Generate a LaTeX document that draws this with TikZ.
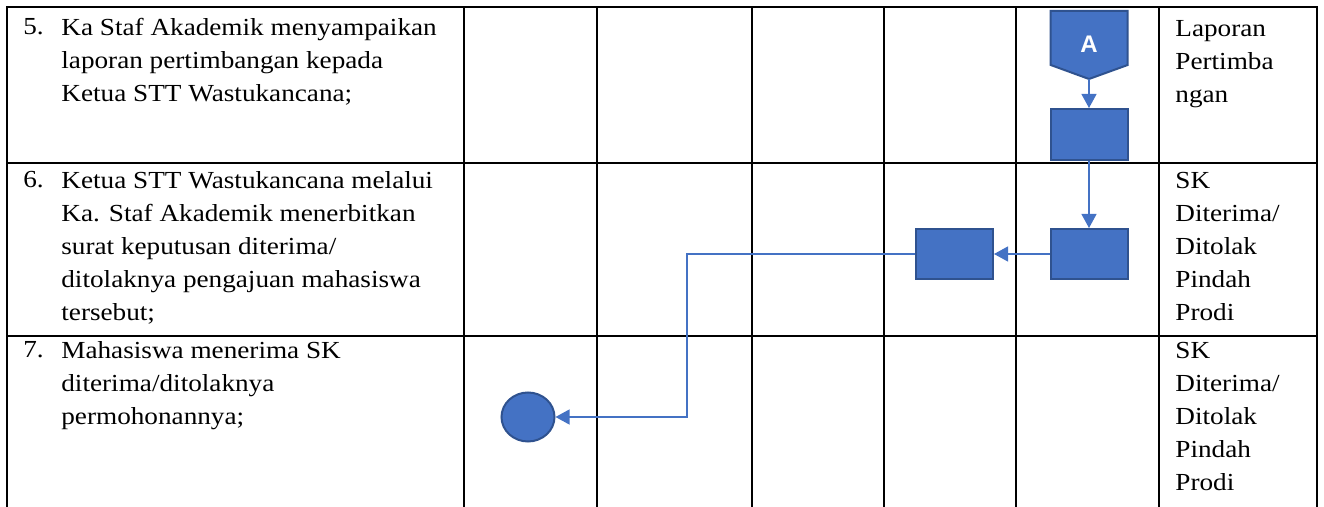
\documentclass[tikz,border=0pt]{standalone}
\usepackage{fontspec}
\setmainfont{Liberation Serif}[FakeStretch=1.11]
\newfontfamily\labelfont{Liberation Sans}
\usetikzlibrary{arrows.meta,positioning,shapes.geometric,calc}
\definecolor{flowblue}{HTML}{4472C4}
\definecolor{flowedge}{HTML}{2F528F}

\begin{document}
\begin{tikzpicture}[x=0.5pt, y=-0.5pt,
  grid/.style={line width=1pt, black, line cap=rect},
  cell/.style={anchor=north west, inner sep=0pt, align=left, font=\fontsize{12.25}{16.5}\selectfont},
  proc/.style={draw=flowedge, line width=1pt, fill=flowblue, minimum width=38.5pt, minimum height=25.5pt, inner sep=0pt},
  term/.style={ellipse, draw=flowedge, line width=1pt, fill=flowblue, minimum width=26.5pt, minimum height=24.5pt, inner sep=0pt},
  arr/.style={-{Triangle[length=7pt, width=7.5pt]}, flowblue, line width=0.6pt},
]
  \useasboundingbox (0,0) rectangle (1324,507);

  % table lines
  \foreach \x in {7.3,464,596.7,751.7,884.3,1016,1159,1316.5}
    \draw[grid] (\x,7.3) -- (\x,507);
  \foreach \y in {7.3,163,336}
    \draw[grid] (7.3,\y) -- (1316.5,\y);

  % activity texts
  \node[cell] (n5) at (23,18.3) {5.};
  \node[cell] (t5) at (61,18.3) {Ka Staf Akademik menyampaikan\\laporan pertimbangan kepada\\Ketua STT Wastukancana;};
  \node[cell] (n6) at (23,171.3) {6.};
  \node[cell] (t6) at (61,171.3) {Ketua STT Wastukancana melalui\\Ka. Staf Akademik menerbitkan\\surat keputusan diterima/\\ditolaknya pengajuan mahasiswa\\tersebut;};
  \node[cell] (n7) at (23,341.3) {7.};
  \node[cell] (t7) at (61,341.3) {Mahasiswa menerima SK\\diterima/ditolaknya\\permohonannya;};

  % output documents
  \node[cell] (d5) at (1175,19.8) {Laporan\\Pertimba\\ngan};
  \node[cell] (d6) at (1175,171.8) {SK\\Diterima/\\Ditolak\\Pindah\\Prodi};
  \node[cell] (d7) at (1175,341.8) {SK\\Diterima/\\Ditolak\\Pindah\\Prodi};

  % off-page connector
  \draw[draw=flowedge, line width=1pt, fill=flowblue] (1050.7,11) -- (1127.7,11) -- (1127.7,65) -- (1089,79) -- (1050.7,65) -- cycle;
  \node[text=white, font=\labelfont\bfseries\fontsize{12}{12}\selectfont] (offA) at (1089,44) {A};
  \coordinate (offAtip) at (1089,79);

  % flow
  \node[proc] (lap) at (1089,134.5) {};
  \node[proc, minimum height=25pt] (skA) at (1089,254) {};
  \node[proc, minimum height=25pt] (skB) at (954.5,254) {};
  \node[term] (done) at (528,417) {};
  \coordinate (turn) at (687,254);

  \draw[arr] (offAtip) -- (lap);
  \draw[arr] (lap) -- (skA);
  \draw[arr] (skA) -- (skB);
  \draw[arr] (skB.west) -- (turn) |- (done);
\end{tikzpicture}
\end{document}
